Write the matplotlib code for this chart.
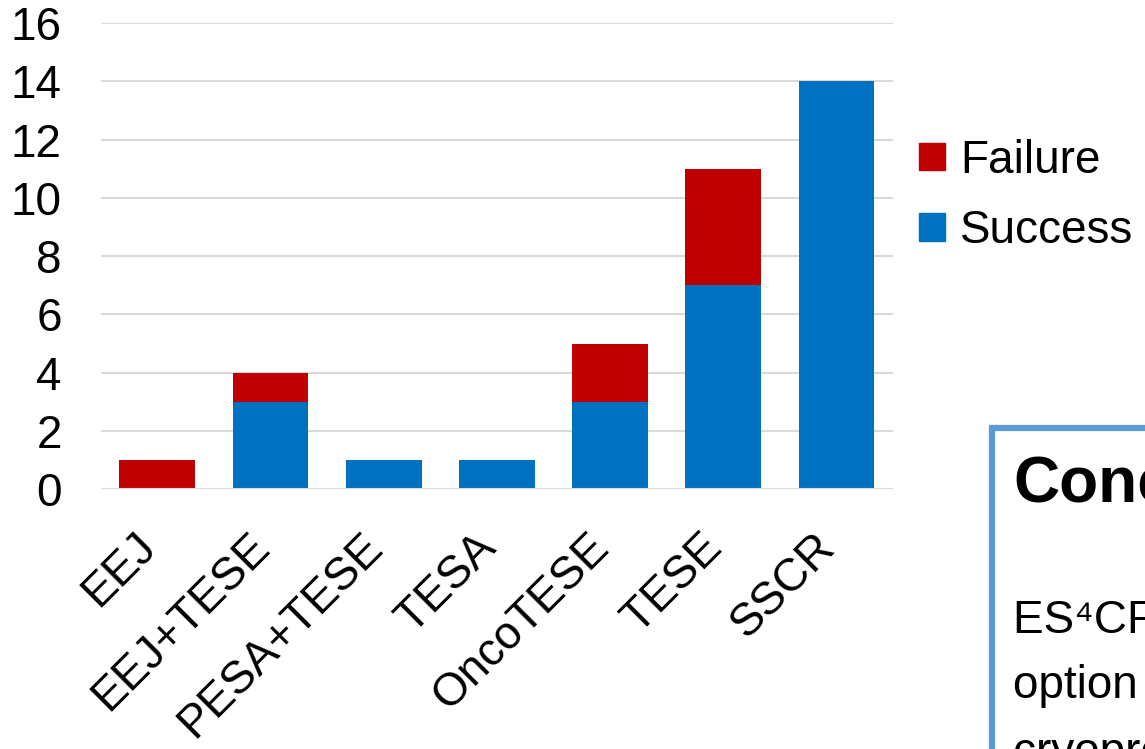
import matplotlib
matplotlib.use('Agg')
import matplotlib.pyplot as plt
import matplotlib.transforms as mtransforms
from matplotlib.patches import Rectangle, Patch
import numpy as np

plt.rcParams['font.family'] = ['Liberation Sans', 'DejaVu Sans']

# retrieval techniques and outcomes
categories = ['EEJ', 'EEJ+TESE', 'PESA+TESE', 'TESA', 'OncoTESE', 'TESE', 'SSCR']
success = [0, 3, 1, 1, 3, 7, 14]
failure = [1, 1, 0, 0, 2, 4, 0]
yticks = [0, 2, 4, 6, 8, 10, 12, 14, 16]

red = '#C00000'
blue = '#0070C0'
fs = 33

fig = plt.figure(figsize=(11.45, 7.49), dpi=100)
ax = fig.add_axes([0.088, 0.347, 0.692, 0.622])

x = np.arange(len(categories))
ax.bar(x, success, width=0.67, color=blue, zorder=3)
ax.bar(x, failure, width=0.67, bottom=success, color=red, zorder=3)

ax.set_xlim(-0.5, len(categories) - 0.5)
ax.set_ylim(0, 16)
ax.set_yticks(yticks)
ax.yaxis.grid(True, color='#D9D9D9', linewidth=1.5, zorder=0)
ax.axhline(0, color='#D9D9D9', linewidth=1.5, zorder=4)
for s in ax.spines.values():
    s.set_visible(False)
ax.tick_params(axis='both', length=0, labelsize=fs)
ax.tick_params(axis='y', pad=28)
ax.set_xticks(x)
ax.set_xticklabels(categories, rotation=45, ha='right', va='center',
                   rotation_mode='anchor')
ax.tick_params(axis='x', pad=37)
# nudge the slanted labels a little to the left
shift = mtransforms.ScaledTranslation(-8 / 100, 0, fig.dpi_scale_trans)
for lbl in ax.get_xticklabels():
    lbl.set_transform(lbl.get_transform() + shift)

# legend, failure listed on top
handles = [Patch(color=red), Patch(color=blue)]
fig.legend(handles, ['Failure', 'Success'], loc='upper left',
           bbox_to_anchor=(0.803, 0.815), frameon=False, fontsize=fs,
           handlelength=0.55, handleheight=0.55, handletextpad=0.33,
           labelspacing=0.58, borderaxespad=0, borderpad=0)

# conclusions box, running off the page
box = Rectangle((992 / 1145, -0.1), 0.3, 0.1 + (749 - 428) / 749,
                transform=fig.transFigure, fill=False,
                edgecolor='#5B9BD5', linewidth=4.5, clip_on=False)
fig.add_artist(box)
fig.text(1013 / 1145, (749 - 502) / 749, 'Conclusion', fontsize=46,
         fontweight='bold', va='baseline')
fig.text(1013 / 1145, (749 - 633) / 749, 'ES⁴CR is a', fontsize=fs,
         va='baseline')
fig.text(1013 / 1145, (749 - 698) / 749, 'option for', fontsize=fs,
         va='baseline')
fig.text(1013 / 1145, (749 - 765) / 749, 'cryopreservation', fontsize=fs,
         va='baseline')

fig.savefig('out.png', dpi=100)
